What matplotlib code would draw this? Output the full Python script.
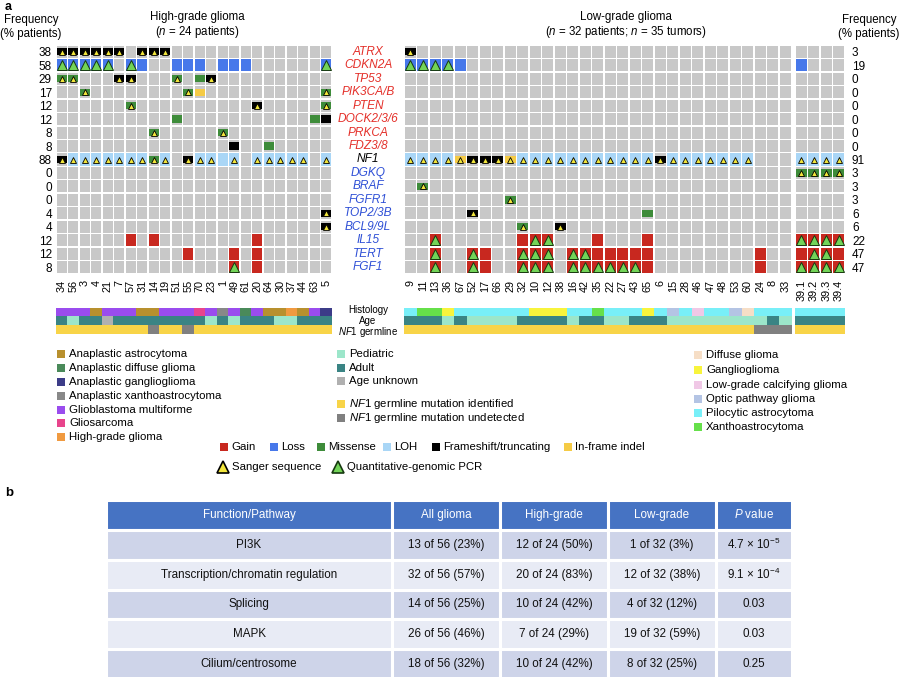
import matplotlib
matplotlib.use('Agg')
import matplotlib.pyplot as plt
from matplotlib.patches import Rectangle
from matplotlib.transforms import blended_transform_factory
import matplotlib.colors as mcolors
import numpy as np

plt.rcParams['font.family'] = ['Liberation Sans', 'DejaVu Sans']
plt.rcParams['mathtext.fontset'] = 'custom'
plt.rcParams['mathtext.rm'] = 'Liberation Sans'
plt.rcParams['mathtext.it'] = 'Liberation Sans:italic'
plt.rcParams['mathtext.bf'] = 'Liberation Sans:bold'

# ------------------------- data -------------------------
genes = ['ATRX', 'CDKN2A', 'TP53', 'PIK3CA/B', 'PTEN', 'DOCK2/3/6', 'PRKCA', 'FDZ3/8',
         'NF1', 'DGKQ', 'BRAF', 'FGFR1', 'TOP2/3B', 'BCL9/9L', 'IL15', 'TERT', 'FGF1']
gene_class = ['r', 'r', 'r', 'r', 'r', 'r', 'r', 'r', 'k', 'b', 'b', 'b', 'b', 'b', 'b', 'b', 'b']
hg_freq = [38, 58, 29, 17, 12, 12, 8, 8, 88, 0, 0, 0, 4, 4, 12, 12, 8]
lg_freq = [3, 19, 0, 0, 0, 0, 0, 0, 91, 3, 3, 3, 6, 6, 22, 47, 47]

hg_patients = ['34', '56', '3', '4', '21', '7', '57', '31', '14', '19', '51', '55', '70', '23',
               '1', '49', '61', '20', '64', '30', '37', '44', '63', '5']
lg_patients = ['9', '11', '13', '36', '67', '52', '17', '66', '29', '32', '10', '12', '38', '16',
               '42', '35', '22', '27', '43', '65', '6', '15', '28', '46', '47', '48', '53', '60',
               '24', '8', '33']
p39_tumors = ['39.1', '39.2', '39.3', '39.4']

# alteration codes: G gain, L loss, M missense, H LOH, F frameshift/truncating, I in-frame indel
hg_alt = [
    "FFFFFF.FFF..............",
    "LLLLL.LL..LLL.LLL......L",
    "MM...FF...M.MF..........",
    "..M........MI..........M",
    "......M..........F.....M",
    "..........M...........MF",
    "........M.....M.........",
    "...............F..M.....",
    "FHHHHHHHMH.FHHHH.HHHHH.H",
    "........................",
    "........................",
    "........................",
    ".......................F",
    ".......................F",
    "......G.G........G......",
    "...........G...G.G......",
    "...............G.G......",
]
# validation codes: s Sanger sequence, q quantitative-genomic PCR
hg_tri = [
    "ssssss.sss..............",
    "qqqqq.q................q",
    "ss...ss...s..s..........",
    "..s........s...........s",
    "......s..........s.....s",
    "........................",
    "........s.....s.........",
    "........................",
    "ssssssssss.sss.s.sssss.s",
    "........................",
    "........................",
    "........................",
    ".......................s",
    ".......................s",
    "........................",
    "........................",
    "...............q........",
]
lg_alt = [
    "F..............................",
    "LLLLL..........................",
    "...............................",
    "...............................",
    "...............................",
    "...............................",
    "...............................",
    "...............................",
    "HHHHIFFFIHHHHHHHHHHHFHHHHHHH...",
    "...............................",
    ".M.............................",
    "........M......................",
    ".....F.............M...........",
    ".........M..F..................",
    "..G......GGG...G...G...........",
    "..G..GG..GGG.GGGGGGG........G..",
    "..G..GG..GGG.GGGGGGG........G..",
]
lg_tri = [
    "s..............................",
    "qqqq...........................",
    "...............................",
    "...............................",
    "...............................",
    "...............................",
    "...............................",
    "...............................",
    "ssssssssssssssssssssssssssss...",
    "...............................",
    ".s.............................",
    "........s......................",
    ".....s.........................",
    ".........s..s..................",
    "..q.......qq...................",
    "..q..q...qqq.qq................",
    "..q..q...qqq.qqqqqq............",
]
p39_alt = ["....", "L...", "....", "....", "....", "....", "....", "....", "HHHH",
           "MMMM", "....", "....", "....", "....", "GGGG", "GGGG", "GGGG"]
p39_tri = ["....", "....", "....", "....", "....", "....", "....", "....", "ssss",
           "ssss", "....", "....", "....", "....", "qqqq", ".qq.", "qqqq"]

hg_hist = ['GBM', 'GBM', 'GBM', 'AA', 'GBM', 'GBM', 'GBM', 'AA', 'AA', 'GBM', 'GBM', 'GBM',
           'GS', 'GBM', 'AXA', 'GBM', 'ADG', 'GBM', 'AA', 'AA', 'HGG', 'AA', 'GBM', 'AGG']
hg_age = "APAAUAAAAAAAAPAPAAAPPAAA"
hg_germ = "YYYYYYYYNYYNYYYYYYYYYYYY"
lg_hist = ['PA', 'XA', 'XA', 'GG', 'PA', 'PA', 'PA', 'PA', 'PA', 'PA', 'GG', 'GG', 'GG', 'PA',
           'PA', 'XA', 'PA', 'PA', 'PA', 'GG', 'PA', 'OPG', 'PA', 'LGC', 'PA', 'PA', 'OPG', 'DG',
           'PA', 'PA', 'PA']
lg_age = "AAAPAPPPPAAAAPAAPPAAAPPPPPPPPAP"
lg_germ = "YYYYYYYYYYYYYYYYYYYYYYYYYYYYNNN"
p39_hist = ['PA', 'PA', 'PA', 'PA']
p39_age = "AAAA"
p39_germ = "YYYY"

pathways = ['PI3K', 'Transcription/chromatin regulation', 'Splicing', 'MAPK', 'Cilium/centrosome']
all_glioma = ['13 of 56 (23%)', '32 of 56 (57%)', '14 of 56 (25%)', '26 of 56 (46%)', '18 of 56 (32%)']
high_grade = ['12 of 24 (50%)', '20 of 24 (83%)', '10 of 24 (42%)', '7 of 24 (29%)', '10 of 24 (42%)']
low_grade = ['1 of 32 (3%)', '12 of 32 (38%)', '4 of 32 (12%)', '19 of 32 (59%)', '8 of 32 (25%)']
p_values = ['4.7 × 10$^{-5}$', '9.1 × 10$^{-4}$', '0.03', '0.03', '0.25']
table_header = ['Function/Pathway', 'All glioma', 'High-grade', 'Low-grade', '$P$ value']

for rows, n in [(hg_alt, 24), (hg_tri, 24), (lg_alt, 31), (lg_tri, 31), (p39_alt, 4), (p39_tri, 4)]:
    assert all(len(r) == n for r in rows), rows

# ------------------------- styles -------------------------
GREY = '#C8C8C8'
alt_colors = {'G': '#C8281F', 'L': '#4778EA', 'M': '#3E8C3A', 'H': '#A9D6F6',
              'F': '#000000', 'I': '#F5CB45'}
FULL = 'GLH'
hist_colors = {'AA': '#B8902E', 'ADG': '#4A8A5A', 'AGG': '#3C3C88', 'AXA': '#888888',
               'GBM': '#9A4CEE', 'GS': '#E8448C', 'HGG': '#F09A40', 'DG': '#F6DEC6',
               'GG': '#F8F43C', 'LGC': '#F0C8E6', 'OPG': '#B4C4E4', 'PA': '#78EFF8',
               'XA': '#66E04A'}
hist_names = {'AA': 'Anaplastic astrocytoma', 'ADG': 'Anaplastic diffuse glioma',
              'AGG': 'Anaplastic ganglioglioma', 'AXA': 'Anaplastic xanthoastrocytoma',
              'GBM': 'Glioblastoma multiforme', 'GS': 'Gliosarcoma', 'HGG': 'High-grade glioma',
              'DG': 'Diffuse glioma', 'GG': 'Ganglioglioma', 'LGC': 'Low-grade calcifying glioma',
              'OPG': 'Optic pathway glioma', 'PA': 'Pilocytic astrocytoma', 'XA': 'Xanthoastrocytoma'}
age_colors = {'P': '#9CE6CA', 'A': '#3A8484', 'U': '#B0B0B0'}
germ_colors = {'Y': '#F8D448', 'N': '#808080'}
gene_colors = {'r': '#E4302A', 'k': '#000000', 'b': '#2F50D6'}
SANGER = dict(mfc='#F2E63C', mec='black', mew=0.6)
QPCR = dict(mfc='#72D458', mec='#173A10', mew=0.7)

W, H = 900, 677
fig = plt.figure(figsize=(9, 6.77), dpi=100)


def px_axes(x0, y0, x1, y1):
    return fig.add_axes([x0 / W, 1 - y1 / H, (x1 - x0) / W, (y1 - y0) / H])


ax0 = fig.add_axes([0, 0, 1, 1])
ax0.set_xlim(0, W)
ax0.set_ylim(H, 0)
ax0.axis('off')

GRID_TOP, GRID_BOT = 45, 274
ROW_PX = (GRID_BOT - GRID_TOP) / len(genes)


def draw_grid(ax, alts, tris, cell_w):
    ncols = len(alts[0])
    nrows = len(alts)
    gx = 0.7 / cell_w
    gy = 0.7 / ROW_PX
    ax.set_xlim(-0.5, ncols - 0.5)
    ax.set_ylim(nrows - 0.5, -0.5)
    for i in range(nrows):
        for j in range(ncols):
            ax.add_patch(Rectangle((j - 0.5 + gx, i - 0.5 + gy), 1 - 2 * gx, 1 - 2 * gy,
                                   facecolor=GREY, edgecolor='none'))
            a = alts[i][j]
            if a in FULL:
                ax.add_patch(Rectangle((j - 0.5 + gx, i - 0.5 + gy), 1 - 2 * gx, 1 - 2 * gy,
                                       facecolor=alt_colors[a], edgecolor='none'))
            elif a != '.':
                ax.add_patch(Rectangle((j - 0.5 + gx, i - 0.27), 1 - 2 * gx, 0.54,
                                       facecolor=alt_colors[a], edgecolor='none'))
            t = tris[i][j]
            if t == 's':
                ax.plot(j, i, marker='^', ms=4.3, ls='none', **SANGER)
            elif t == 'q':
                ax.plot(j, i, marker='^', ms=6.8, ls='none', **QPCR)
    for s in ax.spines.values():
        s.set_visible(False)
    ax.tick_params(length=0)


ax_hg = px_axes(56, GRID_TOP, 332, GRID_BOT)
draw_grid(ax_hg, hg_alt, hg_tri, 11.5)
ax_hg.set_yticks(range(len(genes)))
ax_hg.set_yticklabels([str(v) for v in hg_freq], fontsize=8.5)
ax_hg.tick_params(axis='y', pad=3)
ax_hg.set_xticks(range(len(hg_patients)))
ax_hg.set_xticklabels(hg_patients, rotation=90, fontsize=7.8)
ax_hg.tick_params(axis='x', pad=4)

ax_lg = px_axes(404, GRID_TOP, 791.5, GRID_BOT)
draw_grid(ax_lg, lg_alt, lg_tri, 12.5)
ax_lg.set_yticks([])
ax_lg.set_xticks(range(len(lg_patients)))
ax_lg.set_xticklabels(lg_patients, rotation=90, fontsize=7.8)
ax_lg.tick_params(axis='x', pad=4)

ax_rp = px_axes(795, GRID_TOP, 845, GRID_BOT)
draw_grid(ax_rp, p39_alt, p39_tri, 12.5)
ax_rp.yaxis.tick_right()
ax_rp.set_yticks(range(len(genes)))
ax_rp.set_yticklabels([str(v) for v in lg_freq], fontsize=8.5)
ax_rp.tick_params(axis='y', pad=5)
ax_rp.set_xticks(range(len(p39_tumors)))
ax_rp.set_xticklabels(p39_tumors, rotation=90, fontsize=7.8)
ax_rp.tick_params(axis='x', pad=4)

# gene labels
tr = blended_transform_factory(ax0.transData, ax_hg.transData)
for i, (g, c) in enumerate(zip(genes, gene_class)):
    ax0.text(368, i, g, transform=tr, ha='center', va='center', fontsize=8.6,
             style='italic', color=gene_colors[c])

# histology/age/germline bars
BAR_TOP, BAR_BOT = 307.5, 334.5


def draw_bars(ax, hist, age, germ):
    rgb = np.array([[mcolors.to_rgb(hist_colors[h]) for h in hist],
                    [mcolors.to_rgb(age_colors[a]) for a in age],
                    [mcolors.to_rgb(germ_colors[g]) for g in germ]])
    ax.imshow(rgb, aspect='auto', interpolation='nearest',
              extent=(-0.5, len(hist) - 0.5, 2.5, -0.5))
    ax.axis('off')


draw_bars(px_axes(56, BAR_TOP, 332, BAR_BOT), hg_hist, hg_age, hg_germ)
draw_bars(px_axes(404, BAR_TOP, 791.5, BAR_BOT), lg_hist, lg_age, lg_germ)
draw_bars(px_axes(795, BAR_TOP, 845, BAR_BOT), p39_hist, p39_age, p39_germ)

ax0.text(368, 310, 'Histology', ha='center', va='center', fontsize=7)
ax0.text(368, 321, 'Age', ha='center', va='center', fontsize=7)
ax0.text(368, 332, r'$\mathit{NF1}$ germline', ha='center', va='center', fontsize=7)

# headers
ax0.text(5, 7, 'a', fontsize=9, fontweight='bold', va='center')
ax0.text(31, 20, 'Frequency', ha='center', va='center', fontsize=8.3)
ax0.text(31, 34, '(% patients)', ha='center', va='center', fontsize=8.3)
ax0.text(197, 17, 'High-grade glioma', ha='center', va='center', fontsize=8.3)
ax0.text(197, 32, '($n$ = 24 patients)', ha='center', va='center', fontsize=8.3)
ax0.text(626, 17, 'Low-grade glioma', ha='center', va='center', fontsize=8.3)
ax0.text(626, 32, '($n$ = 32 patients; $n$ = 35 tumors)', ha='center', va='center', fontsize=8.3)
ax0.text(869, 20, 'Frequency', ha='center', va='center', fontsize=8.3)
ax0.text(869, 34, '(% patients)', ha='center', va='center', fontsize=8.3)

# legends
LFS = 8.2


def swatch(x, y, color, label, size=8):
    ax0.add_patch(Rectangle((x, y - size / 2), size, size, facecolor=color, edgecolor='none'))
    ax0.text(x + size + 4, y, label, va='center', ha='left', fontsize=LFS)


left_keys = ['AA', 'ADG', 'AGG', 'AXA', 'GBM', 'GS', 'HGG']
left_y = [354, 368, 382, 396, 410, 423, 437]
for k, y in zip(left_keys, left_y):
    swatch(57, y, hist_colors[k], hist_names[k])

swatch(337, 354, age_colors['P'], 'Pediatric')
swatch(337, 368, age_colors['A'], 'Adult')
swatch(337, 381, age_colors['U'], 'Age unknown')
swatch(337, 404, germ_colors['Y'], r'$\mathit{NF1}$ germline mutation identified')
swatch(337, 418, germ_colors['N'], r'$\mathit{NF1}$ germline mutation undetected')

right_keys = ['DG', 'GG', 'LGC', 'OPG', 'PA', 'XA']
right_y = [355, 370, 385, 399, 413, 427]
for k, y in zip(right_keys, right_y):
    swatch(694, y, hist_colors[k], hist_names[k])

alt_legend = [('G', 'Gain', 220), ('L', 'Loss', 270), ('M', 'Missense', 317),
              ('H', 'LOH', 383), ('F', 'Frameshift/truncating', 432), ('I', 'In-frame indel', 564)]
for code, label, x in alt_legend:
    ax0.add_patch(Rectangle((x, 443), 8, 8, facecolor=alt_colors[code], edgecolor='none'))
    ax0.text(x + 11, 447, label, va='center', ha='left', fontsize=LFS)

ax0.plot(223, 467, marker='^', ms=8, ls='none', mfc='#F2E63C', mec='black', mew=1.2)
ax0.text(232, 467, 'Sanger sequence', va='center', ha='left', fontsize=LFS)
ax0.plot(338, 467, marker='^', ms=8, ls='none', mfc='#72D458', mec='#173A10', mew=1.2)
ax0.text(347, 467, 'Quantitative-genomic PCR', va='center', ha='left', fontsize=LFS)

# ------------------------- table b -------------------------
ax0.text(5, 493, 'b', fontsize=9.5, fontweight='bold', va='center')
ax_tab = px_axes(106, 500, 792, 679)
ax_tab.axis('off')
cell_text = [list(r) for r in zip(pathways, all_glioma, high_grade, low_grade, p_values)]
col_w = np.array([286, 108, 108, 108, 76], dtype=float)
tab = ax_tab.table(cellText=cell_text, colLabels=table_header, cellLoc='center',
                   bbox=[0, 0, 1, 1], colWidths=list(col_w / col_w.sum()))
tab.auto_set_font_size(False)
for (r, c), cell in tab.get_celld().items():
    cell.set_edgecolor('white')
    cell.set_linewidth(2.2)
    txt = cell.get_text()
    txt.set_fontsize(8.4)
    if r == 0:
        cell.set_facecolor('#4673C3')
        txt.set_color('white')
    else:
        cell.set_facecolor('#CED4E9' if r % 2 == 1 else '#E8EBF5')
        txt.set_color('#111111')

fig.savefig('out.png', dpi=100)
